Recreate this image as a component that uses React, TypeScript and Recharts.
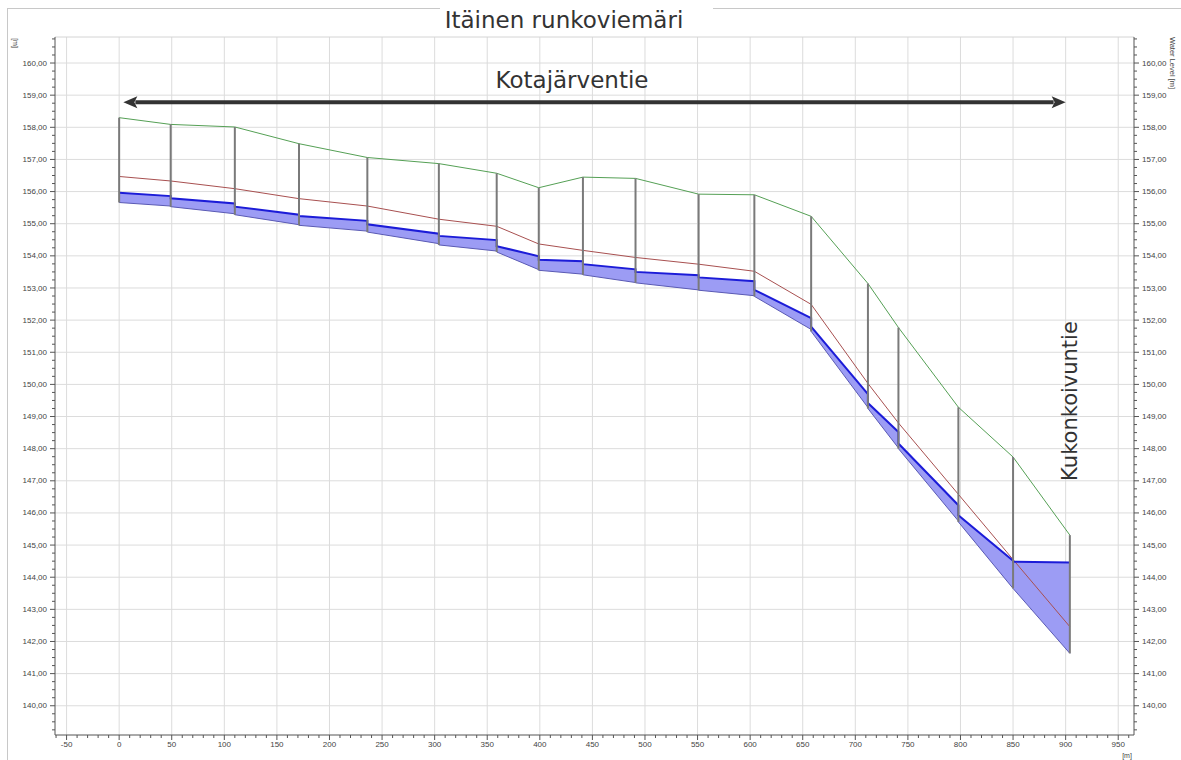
import React from "react";
import { ComposedChart, Area, Line, XAxis, YAxis, CartesianGrid, ReferenceLine } from "recharts";

// manhole chainage along the sewer [m]
const STATIONS = [0, 49, 110, 171, 236, 304, 359, 399, 441, 491, 551, 604, 658, 712, 741, 798, 850, 904];
// ground level at each manhole
const GROUND_LEVEL = [158.3, 158.09, 158.01, 157.49, 157.06, 156.87, 156.57, 156.12, 156.45, 156.41, 155.92, 155.9, 155.23, 153.14, 151.77, 149.29, 147.74, 145.31];
// red line
const MAX_LEVEL = [156.47, 156.33, 156.09, 155.78, 155.55, 155.14, 154.92, 154.37, 154.17, 153.95, 153.74, 153.52, 152.49, 150.03, 148.8, 146.58, 144.55, 142.46];
// pipe reaches (one entry per reach): blue top line and invert, upstream / downstream end
const CROWN_UP = [155.96, 155.79, 155.53, 155.24, 154.98, 154.62, 154.3, 153.88, 153.74, 153.5, 153.33, 152.94, 151.8, 149.42, 148.16, 145.93, 144.48];
const CROWN_DOWN = [155.86, 155.63, 155.28, 155.09, 154.69, 154.49, 153.99, 153.83, 153.58, 153.4, 153.21, 152.06, 149.7, 148.52, 146.24, 144.51, 144.46];
const INVERT_UP = [155.66, 155.53, 155.28, 154.95, 154.74, 154.34, 154.12, 153.55, 153.41, 153.16, 152.93, 152.74, 151.65, 149.25, 148.0, 145.72, 143.65];
const INVERT_DOWN = [155.55, 155.31, 154.97, 154.77, 154.38, 154.15, 153.57, 153.43, 153.17, 152.94, 152.76, 151.71, 149.28, 148.02, 145.75, 143.65, 141.63];

const X_MAJOR = [-50, 0, 50, 100, 150, 200, 250, 300, 350, 400, 450, 500, 550, 600, 650, 700, 750, 800, 850, 900, 950];
const Y_MAJOR = [140, 141, 142, 143, 144, 145, 146, 147, 148, 149, 150, 151, 152, 153, 154, 155, 156, 157, 158, 159, 160];
const X_DOMAIN: [number, number] = [-61, 965];
const Y_DOMAIN: [number, number] = [139.09, 160.81];

const X_TICKS = Array.from({ length: 103 }, (_, i) => -60 + i * 10);
const Y_TICKS = Array.from({ length: 87 }, (_, i) => 139.25 + i * 0.25);

const ARROW = { from: 4, to: 900, level: 158.78 };

const pipeData = CROWN_UP.flatMap((c, i) => [
  { x: STATIONS[i], crown: c, invert: INVERT_UP[i], band: [INVERT_UP[i], c] },
  { x: STATIONS[i + 1], crown: CROWN_DOWN[i], invert: INVERT_DOWN[i], band: [INVERT_DOWN[i], CROWN_DOWN[i]] },
]);
const levelData = STATIONS.map((x, i) => ({ x, ground: GROUND_LEVEL[i], max: MAX_LEVEL[i] }));
const manholeBottom = STATIONS.map((_, i) =>
  Math.min(i > 0 ? INVERT_DOWN[i - 1] : Infinity, i < INVERT_UP.length ? INVERT_UP[i] : Infinity)
);

const TICK_FONT = { fontFamily: "'Liberation Sans', Arial, sans-serif", fontSize: 8, fill: "#444" };
const AXIS = "#555";
const fmt = (v: number) => v.toFixed(2).replace(".", ",");

function XTick(props: any) {
  const { x, y, payload } = props;
  const v = payload.value;
  const major = Math.abs(v % 50) < 1e-6;
  return (
    <g>
      <line x1={x} x2={x} y1={y} y2={y + (major ? 5 : 3)} stroke={AXIS} />
      {major && (
        <text x={x} y={y + 6} dy="0.71em" textAnchor="middle" {...TICK_FONT}>
          {v}
        </text>
      )}
    </g>
  );
}

function YTick(props: any) {
  const { x, y, payload, side } = props;
  const v = payload.value;
  const major = Math.abs(v - Math.round(v)) < 1e-6;
  const len = major ? 5 : 3;
  const dir = side === "left" ? -1 : 1;
  return (
    <g>
      <line x1={x} x2={x + dir * len} y1={y} y2={y} stroke={AXIS} />
      {major && (
        <text x={x + dir * 8} y={y} dy="0.32em" textAnchor={side === "left" ? "end" : "start"} {...TICK_FONT}>
          {fmt(v)}
        </text>
      )}
    </g>
  );
}

function DoubleArrow(props: any) {
  const { x1, y1, x2 } = props;
  const h = 14;
  const w = 6;
  return (
    <g>
      <line x1={x1 + h - 2} y1={y1} x2={x2 - h + 2} y2={y1} stroke="#333" strokeWidth={4} />
      <polygon points={`${x1},${y1} ${x1 + h},${y1 - w} ${x1 + h - 3},${y1} ${x1 + h},${y1 + w}`} fill="#333" />
      <polygon points={`${x2},${y1} ${x2 - h},${y1 - w} ${x2 - h + 3},${y1} ${x2 - h},${y1 + w}`} fill="#333" />
    </g>
  );
}

export default function App() {
  return (
    <div style={{ position: "absolute", left: 0, top: 0, width: 1181, height: 760, background: "#fff" }}>
      <ComposedChart width={1181} height={760} margin={{ top: 37, right: 0, bottom: 0, left: 0 }}>
        <CartesianGrid stroke="#dcdcdc" yAxisId="left" horizontalValues={Y_MAJOR} verticalValues={X_MAJOR} />
        <XAxis
          type="number"
          dataKey="x"
          domain={X_DOMAIN}
          ticks={X_TICKS}
          interval={0}
          allowDataOverflow
          height={25}
          tickSize={0}
          tickMargin={0}
          tickLine={false}
          tick={<XTick />}
          axisLine={{ stroke: AXIS }}
        />
        <YAxis
          yAxisId="left"
          type="number"
          domain={Y_DOMAIN}
          ticks={Y_TICKS}
          interval={0}
          allowDataOverflow
          width={55}
          tickSize={0}
          tickMargin={0}
          tickLine={false}
          tick={<YTick side="left" />}
          axisLine={{ stroke: AXIS }}
        />
        <YAxis
          yAxisId="right"
          orientation="right"
          type="number"
          domain={Y_DOMAIN}
          ticks={Y_TICKS}
          interval={0}
          allowDataOverflow
          width={47}
          tickSize={0}
          tickMargin={0}
          tickLine={false}
          tick={<YTick side="right" />}
          axisLine={{ stroke: AXIS }}
        />
        <ReferenceLine yAxisId="left" y={Y_DOMAIN[1]} stroke="#d4d4d4" />
        <Area
          yAxisId="left"
          data={pipeData}
          dataKey="band"
          type="linear"
          fill="#9c9cf4"
          fillOpacity={1}
          stroke="none"
          isAnimationActive={false}
        />
        <Line yAxisId="left" data={pipeData} dataKey="invert" type="linear" stroke="#5a5ab4" strokeWidth={1} dot={false} activeDot={false} isAnimationActive={false} />
        <Line yAxisId="left" data={levelData} dataKey="max" type="linear" stroke="#a85050" strokeWidth={1} dot={false} activeDot={false} isAnimationActive={false} />
        <Line yAxisId="left" data={pipeData} dataKey="crown" type="linear" stroke="#1c1cd8" strokeWidth={2} dot={false} activeDot={false} isAnimationActive={false} />
        <Line yAxisId="left" data={levelData} dataKey="ground" type="linear" stroke="#55a055" strokeWidth={1} dot={false} activeDot={false} isAnimationActive={false} />
        {STATIONS.map((s, i) => (
          <ReferenceLine
            key={s}
            yAxisId="left"
            segment={[{ x: s, y: GROUND_LEVEL[i] }, { x: s, y: manholeBottom[i] }]}
            stroke="#7a7a7a"
            strokeWidth={2}
          />
        ))}
        <ReferenceLine
          yAxisId="left"
          segment={[{ x: ARROW.from, y: ARROW.level }, { x: ARROW.to, y: ARROW.level }]}
          shape={<DoubleArrow />}
        />
      </ComposedChart>
      <svg width={1181} height={760} style={{ position: "absolute", left: 0, top: 0, pointerEvents: "none" }}>
        <line x1={7.5} y1={8} x2={7.5} y2={760} stroke="#c8c8c8" />
        <line x1={7} y1={8.5} x2={440} y2={8.5} stroke="#c8c8c8" />
        <line x1={713} y1={8.5} x2={1181} y2={8.5} stroke="#c8c8c8" />
        <text x={564} y={28} textAnchor="middle" fontFamily="'DejaVu Sans', sans-serif" fontSize={23} fill="#333">
          Itäinen runkoviemäri
        </text>
        <text x={572} y={88} textAnchor="middle" fontFamily="'DejaVu Sans', sans-serif" fontSize={23} fill="#333">
          Kotajärventie
        </text>
        <text
          x={0}
          y={0}
          transform="translate(1077,401) rotate(-90)"
          textAnchor="middle"
          fontFamily="'DejaVu Sans', sans-serif"
          fontSize={21}
          fill="#333"
        >
          Kukonkoivuntie
        </text>
        <text x={0} y={0} transform="translate(13,43) rotate(90)" textAnchor="middle" fontFamily="'Liberation Sans', sans-serif" fontSize={7} fill="#444">
          [m]
        </text>
        <text x={0} y={0} transform="translate(1170,63) rotate(90)" textAnchor="middle" fontFamily="'Liberation Sans', sans-serif" fontSize={7.5} fill="#444">
          Water Level [m]
        </text>
        <text x={1127} y={758} textAnchor="middle" fontFamily="'Liberation Sans', sans-serif" fontSize={7} fill="#444">
          [m]
        </text>
      </svg>
    </div>
  );
}
